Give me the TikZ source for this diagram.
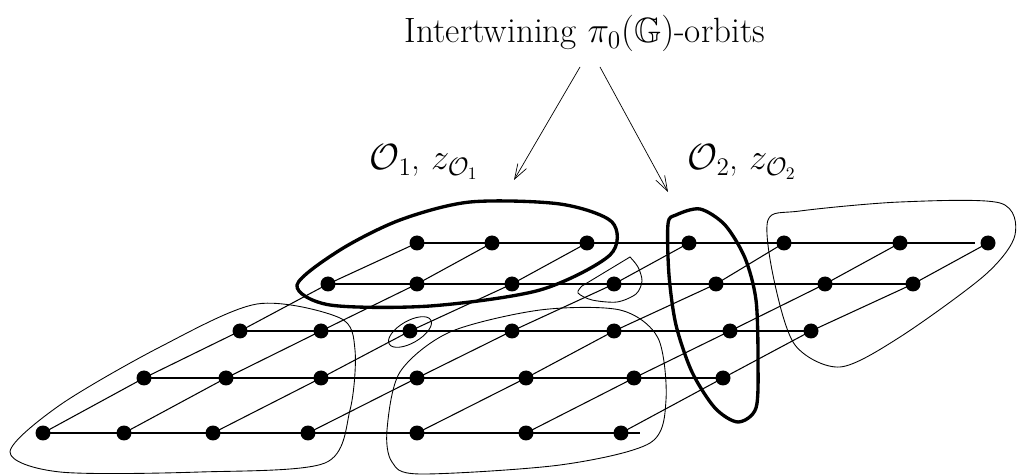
\documentclass[tikz,border=0pt]{standalone}
\usepackage{amssymb}
\usetikzlibrary{arrows.meta}

\begin{document}
\begin{tikzpicture}[x=0.02cm, y=-0.02cm, >={Straight Barb[length=3mm,width=2mm]},
    dot/.style={circle, fill, inner sep=0pt, minimum size=0.3cm},
    link/.style={line width=0.6pt},
    orbit/.style={line width=0.5pt},
    bigorbit/.style={line width=1.9pt},
    lbl/.style={font=\fontsize{20}{24}\selectfont, inner sep=0pt}]

    \useasboundingbox (0,0) rectangle (1019,476);

    % lattice points, row by row from the top
    \foreach \r/\y/\xs in {1/243/{417,492,587,689,784,900,988},
                           2/284/{328,417,512,614,716,825,913},
                           3/331/{240,321,410,512,614,730,811},
                           4/378/{144,226,321,417,526,634,723},
                           5/433/{43,124,213,308,417,526,621}}
      \foreach \x [count=\c] in \xs
        \node[dot] (p\r\c) at (\x,\y) {};

    % horizontal lines
    \coordinate (e1) at (975,243);
    \coordinate (e5) at (640,433);
    \draw[link] (p11.center) -- (e1);
    \foreach \r in {2,3,4}
      \draw[link] (p\r1.center) -- (p\r7.center);
    \draw[link] (p51.center) -- (e5);

    % slanted lines
    \foreach \c in {1,...,7}
      \draw[link] (p5\c.center) -- (p4\c.center) -- (p3\c.center)
                  -- (p2\c.center) -- (p1\c.center);

    % the two intertwining orbits
    \draw[bigorbit] plot[smooth cycle] coordinates {(297,285) (340,250) (400,220)
      (470,202) (560,204) (612,222) (610,255) (540,290) (430,306) (330,305)};
    \draw[bigorbit] plot[smooth cycle] coordinates {(668,224) (676,215) (700,209)
      (725,225) (745,258) (756,300) (758,360) (756,408) (738,422) (715,408)
      (692,372) (676,325) (669,275)};

    % the other orbits
    \draw[orbit] plot[smooth cycle] coordinates {(257,304) (340,318) (355,350)
      (350,410) (325,463) (200,472) (60,472) (10,452) (60,405) (160,347)};
    \draw[orbit] plot[smooth cycle] coordinates {(387,430) (400,372) (450,332)
      (540,310) (620,310) (658,338) (666,400) (650,443) (560,465) (420,474)
      (392,462)};
    \draw[orbit] plot[smooth cycle] coordinates {(768,220) (774,280) (795,345)
      (840,367) (900,337) (985,275) (1015,235) (1000,203) (900,202) (800,211)};
    \draw[orbit] (410,332) ellipse [x radius=24, y radius=11, rotate=30];
    \draw[orbit] plot[smooth] coordinates {(630,257) (638,267) (642,281)
      (636,294) (617,302) (592,300) (578,293) (582,286)} -- cycle;

    % texts
    \node[lbl, anchor=base] (title) at (585,43) {Intertwining $\pi_0(\mathbb{G})$-orbits};
    \node[lbl, anchor=base] (o1) at (424,170) {$\mathcal{O}_1$, $z_{\mathcal{O}_1}$};
    \node[lbl, anchor=base] (o2) at (742,170) {$\mathcal{O}_2$, $z_{\mathcal{O}_2}$};

    \coordinate (s1) at (580,67);
    \coordinate (t1) at (514,180);
    \coordinate (s2) at (600,67);
    \coordinate (t2) at (668,192);
    \draw[->, line width=0.4pt] (s1) -- (t1);
    \draw[->, line width=0.4pt] (s2) -- (t2);

\end{tikzpicture}
\end{document}
